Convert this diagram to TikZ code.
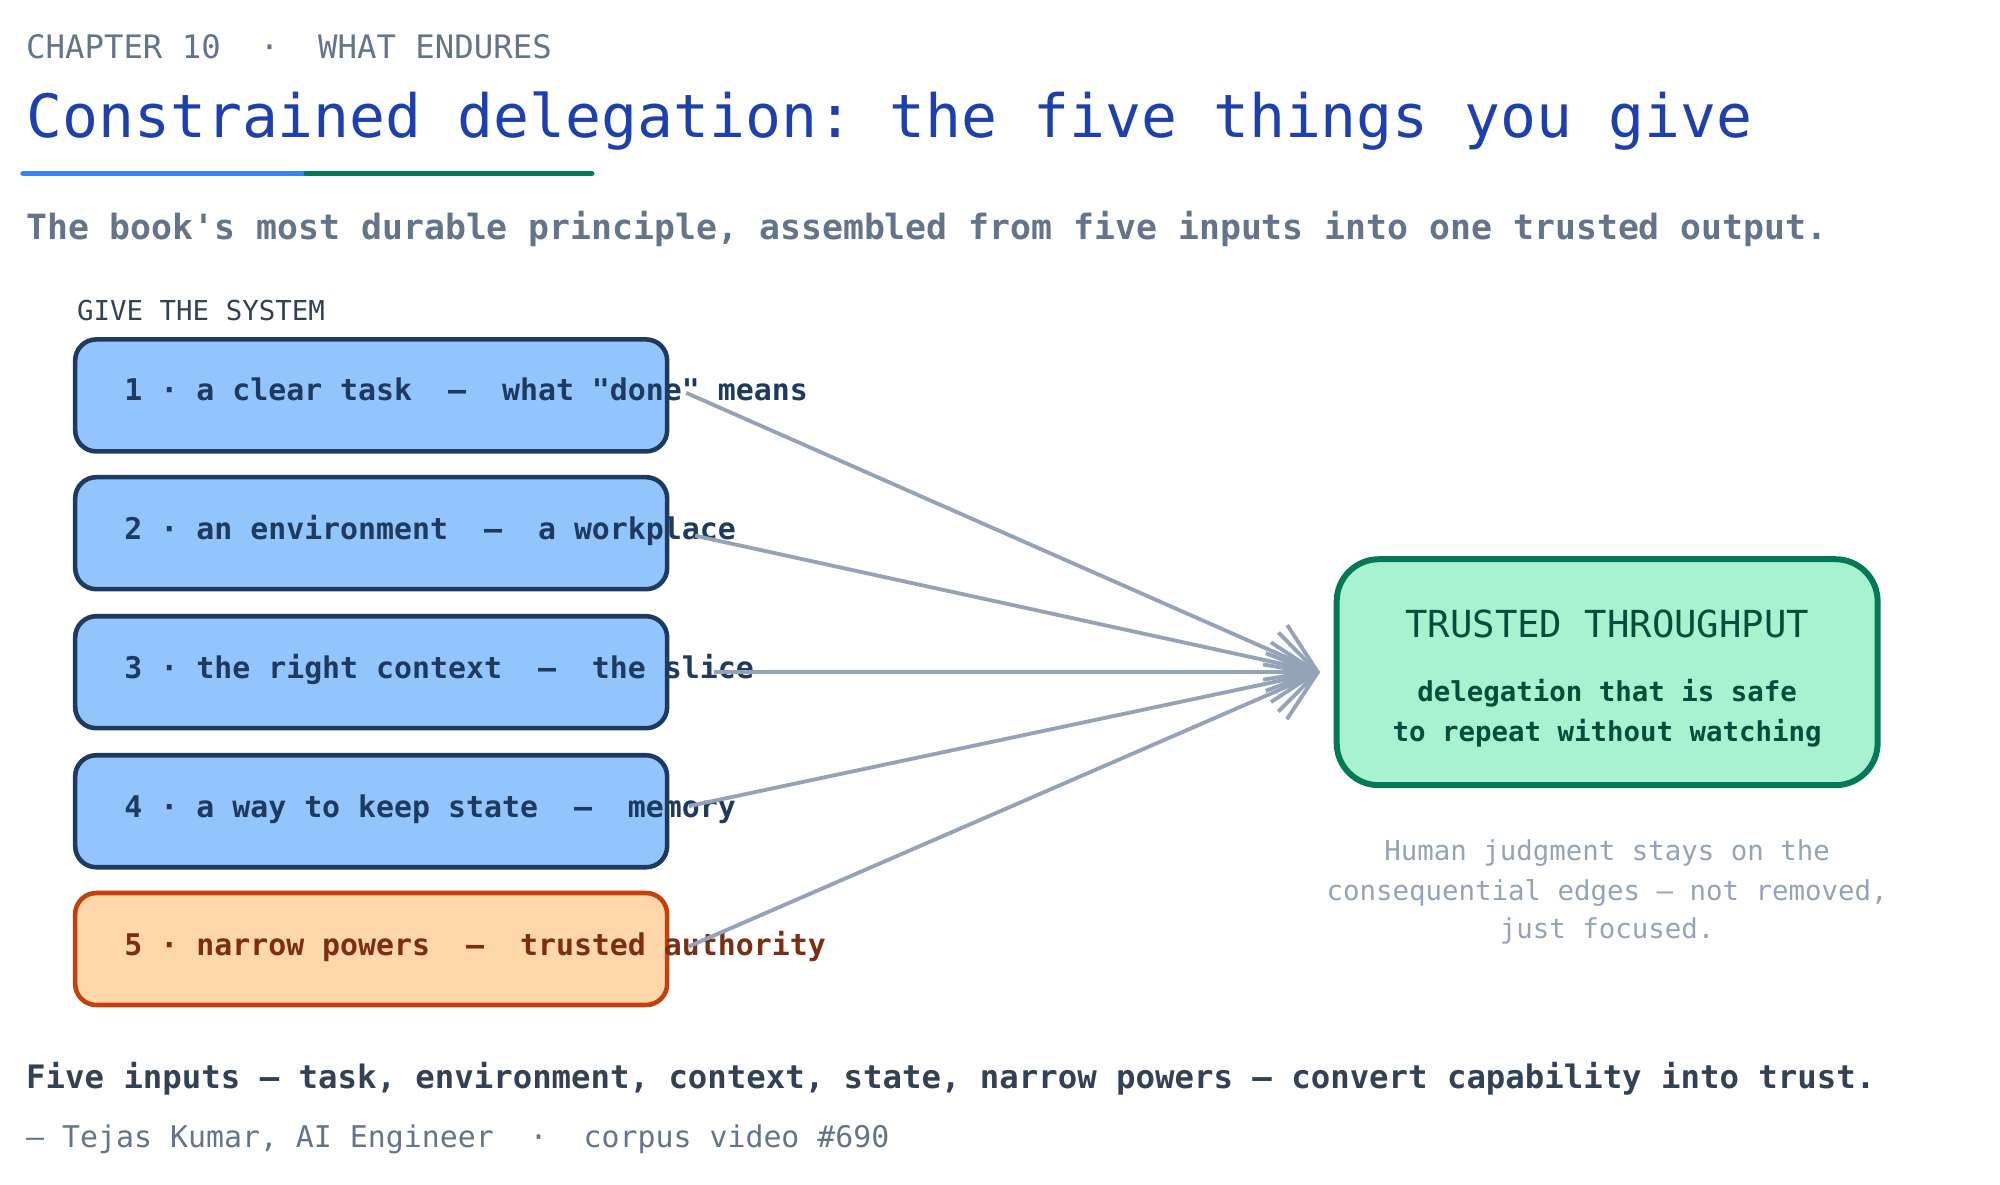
\documentclass[tikz,border=0pt]{standalone}
\usepackage{fontspec}
\setmonofont{DejaVu Sans Mono}
\usetikzlibrary{arrows.meta}
\definecolor{titleblue}{HTML}{1E40AF}
\definecolor{slate}{HTML}{64748B}
\definecolor{darkslate}{HTML}{334155}
\definecolor{lightslate}{HTML}{94A3B8}
\definecolor{boxfill}{HTML}{93C5FD}
\definecolor{boxline}{HTML}{1E3A5F}
\definecolor{orfill}{HTML}{FED7AA}
\definecolor{orline}{HTML}{C2410C}
\definecolor{ortext}{HTML}{7C2D12}
\definecolor{grfill}{HTML}{A7F3D0}
\definecolor{grline}{HTML}{047857}
\definecolor{grtext}{HTML}{064E3B}
\definecolor{lineblue}{HTML}{3B82F6}
\tikzset{
  txt/.style={anchor=base west,inner sep=0pt,font=\ttfamily},
  input/.style={draw=boxline,fill=boxfill,line width=1.3pt,rounded corners=6pt,minimum width=5.92cm,minimum height=1.12cm,inner sep=0pt},
  power/.style={input,draw=orline,fill=orfill},
  feed/.style={draw=lightslate,line width=1.1pt,-{Straight Barb[length=13pt,width=17pt,line width=1.1pt]}}
}
\begin{document}
\begin{tikzpicture}[x=0.01276cm,y=-0.01276cm]
\useasboundingbox (0,0) rectangle (1568,929);
\node[txt,text=slate,font=\ttfamily\fontsize{9.2}{11}\selectfont] (chap) at (20,46) {CHAPTER 10\ \ ·\ \ WHAT ENDURES};
\node[txt,text=titleblue,font=\ttfamily\fontsize{17}{20}\selectfont] (title) at (20,108) {Constrained delegation: the five things you give};
\draw[line width=1.5pt,lineblue,line cap=round] (18,136) -- (240,136);
\draw[line width=1.5pt,grline,line cap=round] (240,136) -- (464,136);
\node[txt,text=slate,font=\ttfamily\bfseries\fontsize{9.9}{12}\selectfont] (sub) at (20,188) {The book's most durable principle, assembled from five inputs into one trusted output.};
\node[txt,text=darkslate,font=\ttfamily\fontsize{7.8}{9}\selectfont] (give) at (60,251) {GIVE THE SYSTEM};
% inputs
\node[input] (b1) at (291,310) {};
\node[input] (b2) at (291,418) {};
\node[input] (b3) at (291,527) {};
\node[input] (b4) at (291,636) {};
\node[power] (b5) at (291,744) {};
\node[txt,text=boxline,font=\ttfamily\bfseries\fontsize{8.5}{10}\selectfont] (t1) at (97,314) {1 · a clear task\ \ —\ \ what "done" means};
\node[txt,text=boxline,font=\ttfamily\bfseries\fontsize{8.5}{10}\selectfont] (t2) at (97,423) {2 · an environment\ \ —\ \ a workplace};
\node[txt,text=boxline,font=\ttfamily\bfseries\fontsize{8.5}{10}\selectfont] (t3) at (97,532) {3 · the right context\ \ —\ \ the slice};
\node[txt,text=boxline,font=\ttfamily\bfseries\fontsize{8.5}{10}\selectfont] (t4) at (97,641) {4 · a way to keep state\ \ —\ \ memory};
\node[txt,text=ortext,font=\ttfamily\bfseries\fontsize{8.5}{10}\selectfont] (t5) at (97,749) {5 · narrow powers\ \ —\ \ trusted authority};
% output
\node[draw=grline,fill=grfill,line width=1.7pt,rounded corners=12pt,minimum width=5.41cm,minimum height=2.26cm] (out) at (1260,527) {};
\node[anchor=base,inner sep=0pt,text=grtext,font=\ttfamily\fontsize{10.6}{12}\selectfont] (outt) at (1260,500) {TRUSTED THROUGHPUT};
\node[anchor=base,inner sep=0pt,text=grtext,font=\ttfamily\bfseries\fontsize{7.8}{9}\selectfont] (outs) at (1260,550) {delegation that is safe};
\node[anchor=base,inner sep=0pt,text=grtext,font=\ttfamily\bfseries\fontsize{7.8}{9}\selectfont] (outs2) at (1260,581) {to repeat without watching};
\coordinate (tip) at (1035,527);
\coordinate (s1) at (538,308);
\coordinate (s2) at (545,420);
\coordinate (s3) at (560,527);
\coordinate (s4) at (540,632);
\coordinate (s5) at (540,742);
\foreach \s in {s1,s2,s3,s4,s5} \draw[feed] (\s) -- (tip);
\node[anchor=base,inner sep=0pt,text=lightslate,font=\ttfamily\fontsize{7.8}{9}\selectfont] (h1) at (1260,675) {Human judgment stays on the};
\node[anchor=base,inner sep=0pt,text=lightslate,font=\ttfamily\fontsize{7.8}{9}\selectfont] (h2) at (1260,706) {consequential edges — not removed,};
\node[anchor=base,inner sep=0pt,text=lightslate,font=\ttfamily\fontsize{7.8}{9}\selectfont] (h3) at (1260,736) {just focused.};
\node[txt,text=darkslate,font=\ttfamily\bfseries\fontsize{9.2}{11}\selectfont] (foot) at (20,853) {Five inputs — task, environment, context, state, narrow powers — convert capability into trust.};
\node[txt,text=slate,font=\ttfamily\fontsize{8.5}{10}\selectfont] (cite) at (20,900) {— Tejas Kumar, AI Engineer\ \ ·\ \ corpus video \#690};
\end{tikzpicture}
\end{document}
